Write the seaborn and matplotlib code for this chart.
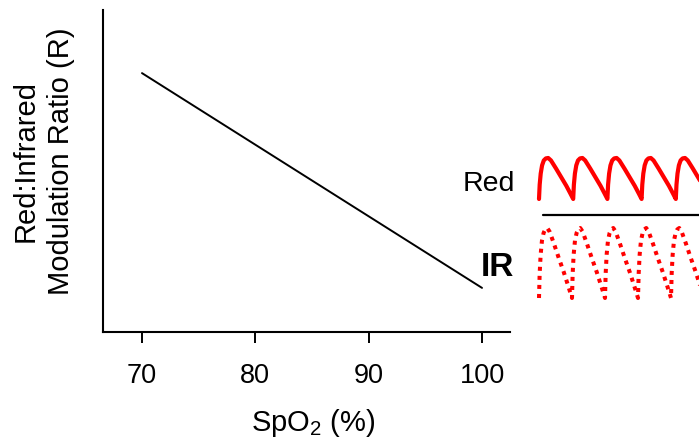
import numpy as np
import pandas as pd
import matplotlib
matplotlib.use("Agg")
import matplotlib.pyplot as plt
import seaborn as sns

# ---- data ----
spo2 = [70, 100]
ratio = [0.804, 0.137]
x_ticks = [70, 80, 90, 100]

# one cycle of each schematic pulse waveform (phase within cycle, normalised amplitude)
red_phase = [0, 0.02, 0.05, 0.09, 0.14, 0.20, 0.27, 0.35, 0.50, 0.65, 0.80, 0.92, 1.0]
red_amp = [0, 0.35, 0.62, 0.82, 0.94, 0.99, 1.0, 0.94, 0.74, 0.53, 0.32, 0.13, 0]
ir_phase = [0, 0.02, 0.05, 0.09, 0.14, 0.19, 0.25, 0.32, 0.45, 0.60, 0.75, 0.90, 1.0]
ir_amp = [0, 0.35, 0.62, 0.82, 0.93, 0.98, 1.0, 0.95, 0.78, 0.57, 0.37, 0.15, 0]
red_period = 1.0
ir_period = 0.965
n_cycles = 5

sns.set_style("white")
plt.rcParams['font.family'] = ['Liberation Sans', 'DejaVu Sans']
plt.rcParams['mathtext.fontset'] = 'custom'
plt.rcParams['mathtext.rm'] = 'Liberation Sans'
plt.rcParams['mathtext.it'] = 'Liberation Sans:italic'
plt.rcParams['text.color'] = 'black'
plt.rcParams['axes.labelcolor'] = 'black'
plt.rcParams['xtick.color'] = 'black'

W, H = 699, 445
fig = plt.figure(figsize=(W / 100, H / 100), dpi=100)
ax = fig.add_axes([103 / W, 1 - 332 / H, 407 / W, 322 / H])

df = pd.DataFrame({"SpO2": spo2, "R": ratio})
sns.lineplot(data=df, x="SpO2", y="R", ax=ax, color="black", linewidth=1.4)

ax.set_xlim(66.56, 102.47)
ax.set_ylim(0, 1)
ax.set_xticks(x_ticks)
ax.set_xticklabels([str(t) for t in x_ticks])
ax.set_yticks([])
for s in ["top", "right"]:
    ax.spines[s].set_visible(False)
for s in ["left", "bottom"]:
    ax.spines[s].set_color("black")
    ax.spines[s].set_linewidth(1.5)
ax.tick_params(axis="x", direction="out", length=8, width=1.4, pad=14,
               labelsize=19.5, colors="black", bottom=True)
ax.set_xlabel(r"SpO$_\mathregular{2}$ (%)", fontsize=21, labelpad=13, x=0.516)
ax.set_ylabel("Red:Infrared\nModulation Ratio (R)", fontsize=21, labelpad=20,
              linespacing=1.33, y=0.53)

# ---- waveform inset ----
wax = fig.add_axes([530 / W, 1 - 305 / H, 169 / W, 160 / H])
wax.axis("off")

def tile(phase, amp, n, period, scale, base):
    xs, ys = [], []
    for k in range(n):
        start = 0 if k == 0 else 1
        xs += [(k + p) * period for p in phase[start:]]
        ys += [base + scale * a for a in amp[start:]]
    return xs, ys

rx, ry = tile(red_phase, red_amp, n_cycles, red_period, 1.0, 2.415)
ix, iy = tile(ir_phase, ir_amp, n_cycles + 1, ir_period, 1.707, 0.0)

sns.lineplot(x=rx, y=ry, ax=wax, sort=False, estimator=None, color="#ff0000",
             linewidth=3.0)
sns.lineplot(x=ix, y=iy, ax=wax, sort=False, estimator=None, color="#ff0000",
             linewidth=2.9, linestyle=(0, (1, 1.25)))
wax.plot([0.117, 5.0], [2.024, 2.024], color="black", linewidth=1.6)
wax.set_xlim(-9 / 34.2, 160 / 34.2)
wax.set_ylim(-7 / 41, 153 / 41)

fig.text(515 / W, 1 - 184 / H, "Red", ha="right", va="center", fontsize=20.5)
fig.text(497 / W, 1 - 268 / H, "IR", ha="center", va="center", fontsize=24,
         fontweight="bold")

fig.savefig("out.png", dpi=100)
